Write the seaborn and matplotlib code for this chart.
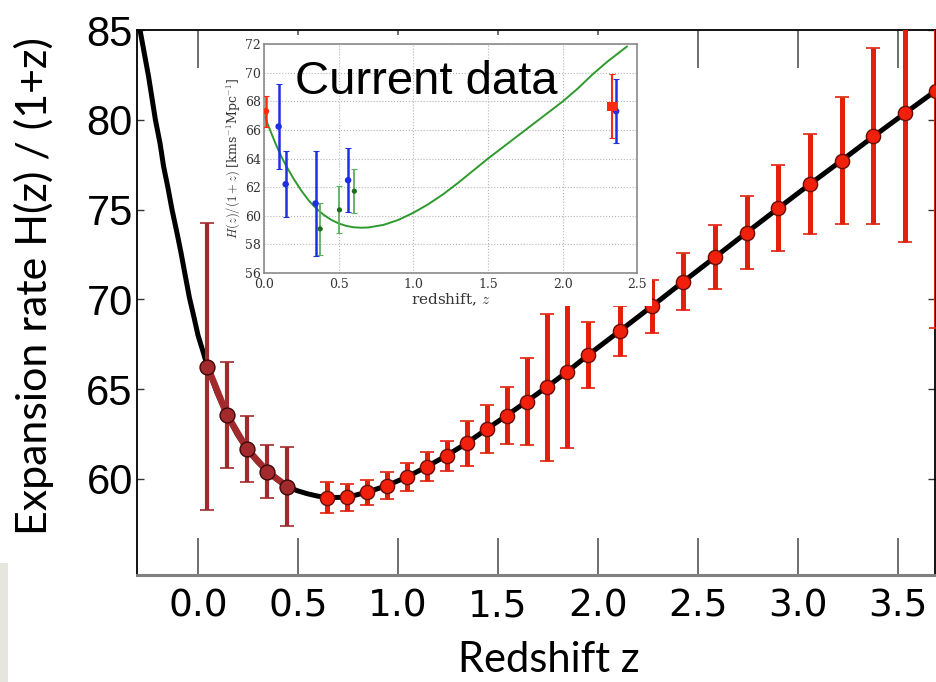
import matplotlib
matplotlib.use("Agg")
import matplotlib.pyplot as plt
import seaborn as sns
from matplotlib.patches import Rectangle

# ---------------- main panel data ----------------
bgs_z = [0.047, 0.145, 0.245, 0.347, 0.447]
bgs_h = [66.26, 63.57, 61.67, 60.41, 59.57]
bgs_err = [8.0, 2.95, 1.82, 1.46, 2.2]

main_z = [0.645, 0.745, 0.845, 0.945, 1.045, 1.145, 1.243, 1.343, 1.443, 1.543,
          1.643, 1.743, 1.843, 1.952, 2.11, 2.27, 2.427, 2.585, 2.743, 2.902,
          3.06, 3.218, 3.377, 3.535, 3.69]
main_h = [58.96, 58.98, 59.26, 59.63, 60.11, 60.69, 61.30, 61.99, 62.77, 63.53,
          64.31, 65.11, 65.94, 66.91, 68.25, 69.62, 70.99, 72.35, 73.72, 75.08,
          76.42, 77.73, 79.07, 80.37, 81.63]
main_err = [0.87, 0.75, 0.7, 0.74, 0.8, 0.83, 0.84, 1.25, 1.32, 1.6,
            2.44, 4.1, 4.2, 1.84, 1.38, 1.47, 1.6, 1.77, 2.03, 2.38,
            2.8, 3.55, 4.9, 7.15, 13.2]

# model curve (black)
model_z = [-0.305, -0.28, -0.247, -0.213, -0.19, -0.172, -0.15, -0.13, -0.105,
           -0.085, -0.065, -0.043, -0.02, 0.0, 0.025,
           0.047, 0.095, 0.145, 0.195, 0.245, 0.295, 0.347, 0.397, 0.447, 0.495,
           0.545, 0.595, 0.645,
           0.745, 0.845, 0.945, 1.045, 1.145, 1.243, 1.343, 1.443, 1.543, 1.643,
           1.743, 1.843, 1.952, 2.11, 2.27, 2.427, 2.585, 2.743, 2.902, 3.06,
           3.218, 3.377, 3.535, 3.69]
model_h = [85.9, 84.4, 82.4, 80.0, 78.7, 77.4, 76.2, 75.0, 73.7,
           72.6, 71.4, 70.1, 69.0, 68.0, 67.1,
           66.26, 64.8, 63.57, 62.5, 61.67, 60.98, 60.41, 59.95, 59.57, 59.35,
           59.18, 59.05, 58.96,
           58.98, 59.26, 59.63, 60.11, 60.69, 61.30, 61.99, 62.77, 63.53, 64.31,
           65.11, 65.94, 66.91, 68.25, 69.62, 70.99, 72.35, 73.72, 75.08, 76.42,
           77.73, 79.07, 80.37, 81.63]

x_ticks = [0.0, 0.5, 1.0, 1.5, 2.0, 2.5, 3.0, 3.5]
x_tick_labels = ["0.0", "0.5", "1.0", "1.5", "2.0", "2.5", "3.0", "3.5"]
y_ticks = [60, 65, 70, 75, 80, 85]
y_tick_labels = ["60", "65", "70", "75", "80", "85"]

# ---------------- inset data ----------------
ins_red_z = [0.013]
ins_red_h = [67.31]
ins_red_err = [1.1]
ins_blue_z = [0.098, 0.145, 0.345, 0.563, 2.357]
ins_blue_h = [66.24, 62.2, 60.85, 62.48, 67.31]
ins_blue_err = [3.0, 2.33, 3.65, 2.23, 2.24]
ins_green_z = [0.376, 0.505, 0.605]
ins_green_h = [59.07, 60.4, 61.71]
ins_green_err = [1.8, 1.65, 1.55]
ins_sq_z = [2.33]
ins_sq_h = [67.66]
ins_sq_err = [2.24]

ins_curve_z = [0.0, 0.025, 0.05, 0.075, 0.1, 0.125, 0.15, 0.2, 0.25, 0.3, 0.35,
               0.4, 0.45, 0.5, 0.55, 0.6, 0.65, 0.7, 0.8, 0.9, 1.0, 1.1, 1.2,
               1.3, 1.4, 1.5, 1.6, 1.7, 1.8, 1.9, 2.0, 2.1, 2.2, 2.3, 2.43]
ins_curve_h = [67.1, 66.4, 65.75, 65.1, 64.5, 63.95, 63.45, 62.55, 61.75, 61.05,
               60.5, 60.05, 59.7, 59.45, 59.28, 59.18, 59.15, 59.17, 59.35, 59.7,
               60.2, 60.8, 61.5, 62.3, 63.15, 64.0, 64.8, 65.6, 66.4, 67.2, 68.0,
               68.9, 69.9, 70.8, 71.85]

ins_x_ticks = [0.0, 0.5, 1.0, 1.5, 2.0, 2.5]
ins_y_ticks = [56, 58, 60, 62, 64, 66, 68, 70, 72]

# ---------------- figure ----------------
sns.set_theme(style="white")
plt.rcParams["font.family"] = ["DejaVu Sans"]
plt.rcParams["mathtext.fontset"] = "cm"

W, H = 937, 682
fig = plt.figure(figsize=(W / 100, H / 100), dpi=100)
fig.patch.set_facecolor("white")

ax = fig.add_axes([137 / W, 1 - 575 / H, (935 - 137) / W, (575 - 30) / H], zorder=0)
ax.set_facecolor("white")

sns.lineplot(x=model_z, y=model_h, ax=ax, color="black", lw=3.6, sort=False,
             estimator=None, zorder=2)
sns.lineplot(x=bgs_z, y=bgs_h, ax=ax, color="#a32a2c", lw=4.8, sort=False,
             estimator=None, zorder=3)

ax.errorbar(bgs_z, bgs_h, yerr=bgs_err, fmt="none", ecolor="#a32a2c",
            elinewidth=3.0, capsize=5, capthick=1.2, zorder=3)
ax.errorbar(main_z, main_h, yerr=main_err, fmt="none", ecolor="#e3200b",
            elinewidth=3.6, capsize=5, capthick=1.2, zorder=3)

sns.scatterplot(x=bgs_z, y=bgs_h, ax=ax, s=115, color="#a32a2c",
                edgecolor="#3a0808", linewidth=1.0, zorder=4)
sns.scatterplot(x=main_z, y=main_h, ax=ax, s=105, color="#f0200c",
                edgecolor="#6b0a00", linewidth=1.0, zorder=4)

ax.set_xlim(-0.305, 3.685)
ax.set_ylim(54.65, 85)
ax.set_xticks(x_ticks)
ax.set_xticklabels(x_tick_labels, fontsize=27, fontfamily="DejaVu Sans")
ax.set_yticks(y_ticks)
ax.set_yticklabels(y_tick_labels, fontsize=30, fontfamily="Liberation Sans")
ax.tick_params(axis="x", direction="in", length=27, width=1.2, top=True,
               bottom=True, pad=10, color="#555555", labelcolor="black")
ax.tick_params(axis="y", direction="in", length=5, width=1.0, left=True,
               right=True, pad=3, color="#333333", labelcolor="black")
for side in ["top", "left", "right"]:
    ax.spines[side].set_color("black")
    ax.spines[side].set_linewidth(1.3)
ax.spines["bottom"].set_color("#808080")
ax.spines["bottom"].set_linewidth(2.2)

ax.set_xlabel("Redshift z", fontsize=30, fontfamily="Lato", color="black")
ax.xaxis.set_label_coords((549 - 137) / 798, (575 - 641) / 545)
ax.set_ylabel("Expansion rate H(z) / (1+z)", fontsize=31, fontfamily="Lato",
              color="black")
ax.yaxis.set_label_coords((54 - 137) / 798, (575 - 286) / 545)

# white backing of the pasted inset
fig.add_artist(Rectangle((226 / W, 1 - 306 / H), (652 - 226) / W, (306 - 35) / H,
                         transform=fig.transFigure, facecolor="white",
                         edgecolor="none", zorder=1))
# light grey strip at bottom-left corner
fig.add_artist(Rectangle((0, 0), 8 / W, (682 - 563) / H, transform=fig.transFigure,
                         facecolor="#e6e6de", edgecolor="none", zorder=1))

# ---------------- inset ----------------
axi = fig.add_axes([264 / W, 1 - 272.7 / H, (637.5 - 264) / W, (272.7 - 44.3) / H],
                   zorder=2)
axi.set_facecolor("white")
sns.lineplot(x=ins_curve_z, y=ins_curve_h, ax=axi, color="#2e9a2e", lw=1.4,
             sort=False, estimator=None, zorder=2)
axi.errorbar(ins_green_z, ins_green_h, yerr=ins_green_err, fmt="none",
             ecolor="#5fae5f", elinewidth=1.3, capsize=2, capthick=0.8, zorder=3)
axi.errorbar(ins_blue_z, ins_blue_h, yerr=ins_blue_err, fmt="none",
             ecolor="#1f2fe6", elinewidth=1.8, capsize=2, capthick=0.8, zorder=3)
axi.errorbar(ins_red_z, ins_red_h, yerr=ins_red_err, fmt="none",
             ecolor="#ff2a10", elinewidth=1.8, capsize=2, capthick=0.8, zorder=3)
axi.errorbar(ins_sq_z, ins_sq_h, yerr=ins_sq_err, fmt="none",
             ecolor="#ff2a10", elinewidth=1.5, capsize=2, capthick=0.8, zorder=3)
sns.scatterplot(x=ins_green_z, y=ins_green_h, ax=axi, s=14, color="#1d6e1d",
                edgecolor="none", zorder=4)
sns.scatterplot(x=ins_blue_z, y=ins_blue_h, ax=axi, s=22, color="#1f2fe6",
                edgecolor="none", zorder=4)
sns.scatterplot(x=ins_red_z, y=ins_red_h, ax=axi, s=22, color="#ff2a10",
                edgecolor="none", zorder=4)
sns.scatterplot(x=ins_sq_z, y=ins_sq_h, ax=axi, s=45, color="#ff2a10",
                marker="s", edgecolor="none", zorder=4)

axi.set_xlim(0, 2.5)
axi.set_ylim(56, 72)
axi.set_xticks(ins_x_ticks)
axi.set_xticklabels([f"{v:.1f}" for v in ins_x_ticks], fontsize=9,
                    fontfamily="DejaVu Serif")
axi.set_yticks(ins_y_ticks)
axi.set_yticklabels([str(v) for v in ins_y_ticks], fontsize=9,
                    fontfamily="DejaVu Serif")
axi.tick_params(axis="y", direction="in", length=2, width=0.6,
                color="#888888", labelcolor="#333333", pad=2)
axi.tick_params(axis="x", direction="in", length=2, width=0.6,
                color="#888888", labelcolor="#333333", pad=4)
axi.grid(True, linestyle=":", color="#b5b5b5", linewidth=0.8)
for s in axi.spines.values():
    s.set_color("#8a8a8a")
    s.set_linewidth(1.2)
axi.set_xlabel("redshift, $z$", fontsize=11, fontfamily="DejaVu Serif",
               color="#333333", labelpad=0)
axi.set_ylabel(r"$H(z)/(1+z)$ [kms$^{-1}$Mpc$^{-1}$]", fontsize=9,
               fontfamily="DejaVu Serif", color="#333333", labelpad=2)

fig.text(295 / W, 1 - 94 / H, "Current data", fontsize=34,
         fontfamily="Liberation Sans", color="black", ha="left", va="baseline",
         zorder=5)

fig.savefig("out.png", dpi=100, facecolor="white")
